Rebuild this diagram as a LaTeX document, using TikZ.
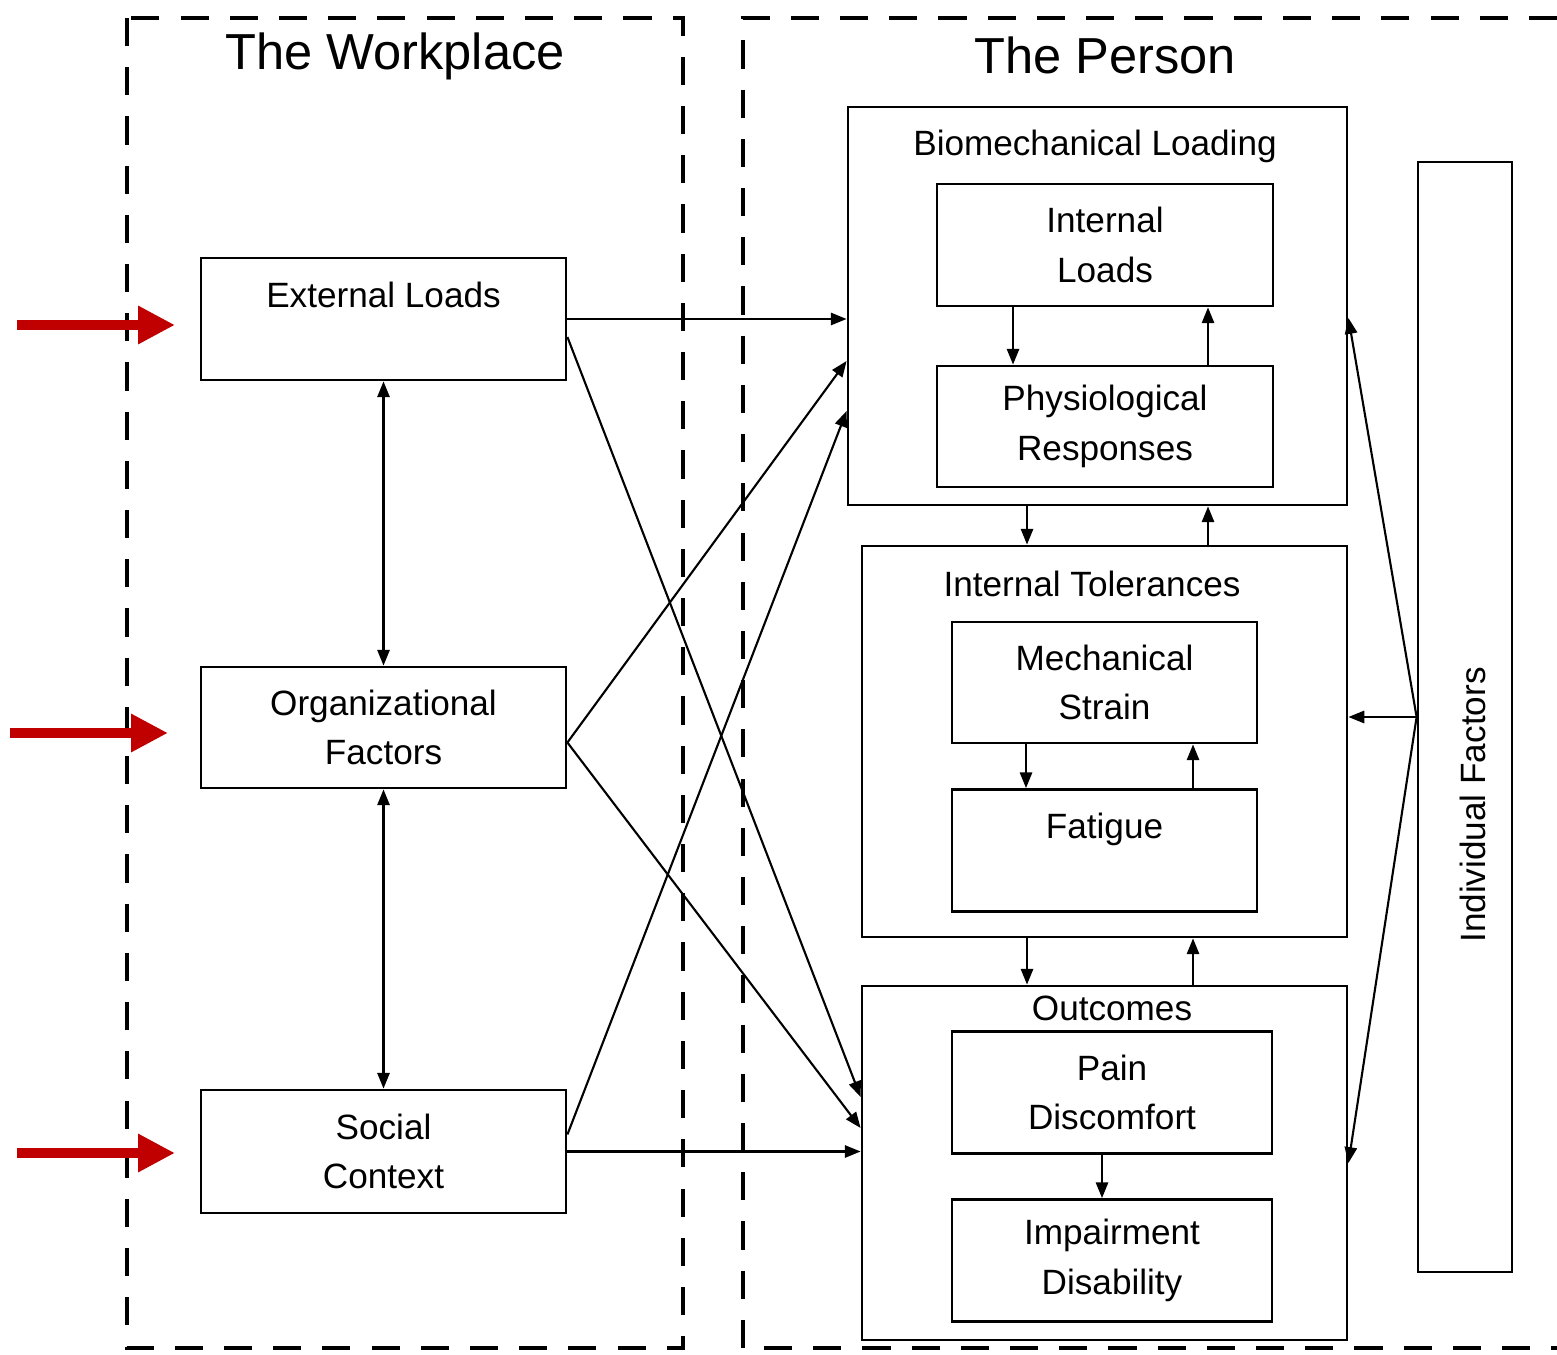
\documentclass[tikz,border=0pt]{standalone}
\usepackage{fontspec}
\setmainfont{Liberation Sans}
\usetikzlibrary{arrows.meta}
\definecolor{pointred}{RGB}{192,0,0}

\begin{document}
\begin{tikzpicture}[
  box/.style={draw, line width=0.8pt, align=center, inner sep=0pt},
  frame/.style={line width=1.4pt, dash pattern=on 8pt off 6pt},
  conn/.style={line width=0.6pt, -{Triangle[length=4.5pt,width=3.5pt]}},
  both/.style={line width=0.6pt, {Triangle[length=4.5pt,width=3.5pt]}-{Triangle[length=4.5pt,width=3.5pt]}},
  pointer/.style={draw=pointred, line width=2.8pt, -{Triangle[length=0.37cm,width=0.36cm]}},
  bigtitle/.style={font=\fontsize{14.4}{17}\selectfont},
  font=\fontsize{10}{14}\selectfont]
\useasboundingbox (0,0) rectangle (15.57,-13.55);

\draw[frame] (1.27,-0.18) rectangle (6.83,-13.48);
\draw[frame] (15.57,-0.18) -- (7.43,-0.18) -- (7.43,-13.48) -- (15.57,-13.48);
\node[bigtitle] (wp) at (3.95,-0.56) {The Workplace};
\node[bigtitle] (ps) at (11.05,-0.55) {The Person};

\node[box, minimum width=3.65cm, minimum height=1.22cm] (el) at (3.835,-3.19) {External Loads\\ \mbox{}};
\node[box, minimum width=3.65cm, minimum height=1.21cm] (org) at (3.835,-7.275) {Organizational\\Factors};
\node[box, minimum width=3.65cm, minimum height=1.23cm] (soc) at (3.835,-11.515) {Social\\Context};

\node[box, minimum width=4.99cm, minimum height=3.98cm] (bio) at (10.975,-3.06) {};
\node (biot) at (10.95,-1.46) {Biomechanical Loading};
\node[box, minimum width=3.36cm, minimum height=1.22cm] (il) at (11.05,-2.45) {Internal\\Loads};
\node[box, minimum width=3.36cm, minimum height=1.21cm] (pr) at (11.05,-4.265) {Physiological\\Responses};

\node[box, minimum width=4.85cm, minimum height=3.91cm] (itol) at (11.045,-7.415) {};
\node (itolt) at (10.92,-5.84) {Internal Tolerances};
\node[box, minimum width=3.05cm, minimum height=1.21cm] (ms) at (11.045,-6.825) {Mechanical\\Strain};
\node[box, minimum width=3.05cm, minimum height=1.22cm] (fat) at (11.045,-8.505) {Fatigue\\ \mbox{}};

\node[box, minimum width=4.85cm, minimum height=3.54cm] (outc) at (11.045,-11.63) {};
\node (outct) at (11.12,-10.08) {Outcomes};
\node[box, minimum width=3.2cm, minimum height=1.22cm] (pd) at (11.12,-10.925) {Pain\\Discomfort};
\node[box, minimum width=3.2cm, minimum height=1.22cm] (id) at (11.12,-12.605) {Impairment\\Disability};

\node[box, minimum width=0.94cm, minimum height=11.1cm] (indf) at (14.65,-7.17) {};
\node[rotate=90] (indft) at (14.73,-8.05) {Individual Factors};

\draw[conn] (el.east) -- (el.east -| bio.west);
\draw[conn] ([yshift=-0.18cm]el.east) -- ([yshift=0.66cm]outc.west);
\draw[conn] ([yshift=-0.15cm]org.east) -- ([yshift=-0.55cm]bio.west);
\draw[conn] ([yshift=-0.15cm]org.east) -- ([yshift=0.35cm]outc.west);
\draw[conn] ([yshift=0.17cm]soc.east) -- ([yshift=-1.05cm]bio.west);
\draw[conn] (soc.east) -- (soc.east -| outc.west);
\draw[both] (el.south) -- (org.north);
\draw[both] (org.south) -- (soc.north);

\draw[conn] ([xshift=-0.92cm]il.south) -- ([xshift=-0.92cm]pr.north);
\draw[conn] ([xshift=1.03cm]pr.north) -- ([xshift=1.03cm]il.south);
\draw[conn] ([xshift=-0.705cm]bio.south) -- ([xshift=-0.775cm]itol.north);
\draw[conn] ([xshift=1.035cm]itol.north) -- ([xshift=1.105cm]bio.south);
\draw[conn] ([xshift=-0.785cm]ms.south) -- ([xshift=-0.785cm]fat.north);
\draw[conn] ([xshift=0.885cm]fat.north) -- ([xshift=0.885cm]ms.south);
\draw[conn] ([xshift=-0.775cm]itol.south) -- ([xshift=-0.775cm]outc.north);
\draw[conn] ([xshift=0.885cm]outc.north) -- ([xshift=0.885cm]itol.south);
\draw[conn] ([xshift=-0.1cm]pd.south) -- ([xshift=-0.1cm]id.north);

\draw[conn] (indf.west) -- ([yshift=-0.12cm]bio.east);
\draw[conn] (indf.west) -- (indf.west -| itol.east);
\draw[conn] (indf.west) -- (outc.east);

\coordinate (p1) at (0.17,-3.25);
\coordinate (t1) at (1.75,-3.25);
\coordinate (p2) at (0.10,-7.33);
\coordinate (t2) at (1.68,-7.33);
\coordinate (p3) at (0.17,-11.53);
\coordinate (t3) at (1.75,-11.53);
\draw[pointer] (p1) -- (t1);
\draw[pointer] (p2) -- (t2);
\draw[pointer] (p3) -- (t3);
\end{tikzpicture}
\end{document}
